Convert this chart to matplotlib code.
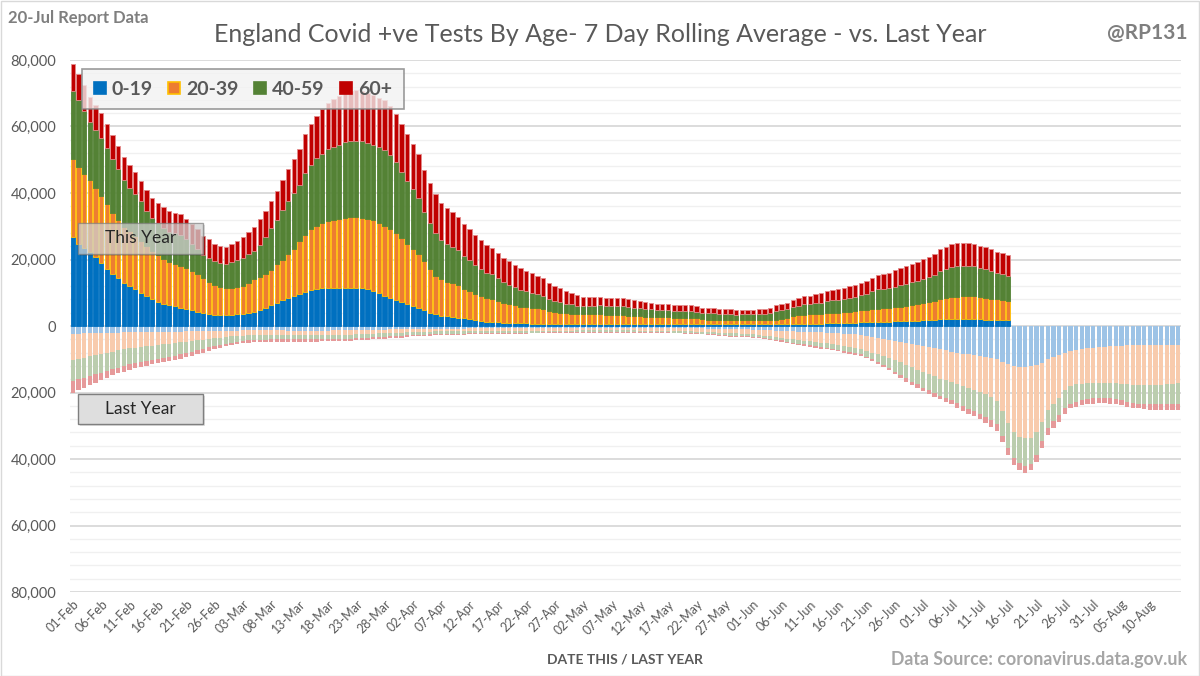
import numpy as np
import pandas as pd
import matplotlib
matplotlib.use('Agg')
import matplotlib.pyplot as plt
from matplotlib.patches import Rectangle, Patch
from matplotlib.ticker import FuncFormatter, MultipleLocator

plt.rcParams['font.family'] = ['Lato', 'DejaVu Sans']

# ---------------- data (thousands of positive tests, 7-day rolling average) ----------------
dates = pd.date_range('2022-02-01', '2022-08-15', freq='D')
date_labels = [d.strftime('%d-%b') for d in dates]
tick_every = 5
age_groups = ['0-19', '20-39', '40-59', '60+']

ty_0_19 = [26.8, 24.8, 23.5, 22.3, 20.8, 19.0, 17.2, 15.5, 14.3, 13.0,
           12.0, 11.0, 10.0, 9.0, 8.0, 7.3, 6.7, 6.3, 5.9, 5.5,
           5.0, 4.7, 4.2, 3.9, 3.7, 3.4, 3.3, 3.3, 3.3, 3.5,
           3.7, 4.0, 4.3, 4.7, 5.5, 6.3, 7.0, 7.7, 8.5, 9.0,
           9.7, 10.3, 10.7, 11.0, 11.3, 11.5, 11.5, 11.5, 11.5, 11.5,
           11.5, 11.3, 11.0, 10.5, 10.0, 9.0, 8.5, 7.7, 7.3, 6.7,
           6.0, 5.5, 4.7, 4.0, 3.5, 3.1, 2.9, 2.7, 2.5, 2.3,
           2.0, 1.7, 1.5, 1.3, 1.2, 1.1, 1.0, 0.9, 0.9, 0.8,
           0.8, 0.7, 0.7, 0.7, 0.7, 0.7, 0.7, 0.7, 0.7, 0.7,
           0.7, 0.6, 0.6, 0.6, 0.6, 0.6, 0.6, 0.6, 0.6, 0.6,
           0.6, 0.6, 0.6, 0.6, 0.6, 0.6, 0.6, 0.6, 0.6, 0.6,
           0.6, 0.5, 0.5, 0.5, 0.5, 0.5, 0.5, 0.5, 0.5, 0.5,
           0.5, 0.5, 0.5, 0.5, 0.5, 0.5, 0.6, 0.6, 0.7, 0.7,
           0.7, 0.7, 0.7, 0.8, 0.8, 0.9, 0.9, 1.0, 1.0, 1.1,
           1.1, 1.2, 1.2, 1.3, 1.3, 1.4, 1.4, 1.5, 1.5, 1.6,
           1.7, 1.8, 1.9, 2.0, 2.1, 2.2, 2.2, 2.2, 2.2, 2.1,
           2.0, 1.9, 1.9, 1.8, 1.8, 1.7]
ty_20_39 = [23.3, 23.0, 22.3, 21.6, 20.8, 20.1, 19.4, 18.6, 17.6, 16.8,
            16.6, 16.1, 15.6, 15.1, 14.6, 14.1, 13.4, 13.0, 12.7, 12.5,
            12.4, 11.8, 11.3, 10.4, 9.6, 8.9, 8.3, 8.2, 8.2, 8.2,
            8.3, 8.8, 9.7, 10.0, 10.0, 10.4, 11.5, 12.3, 13.1, 14.1,
            15.8, 17.2, 18.4, 19.1, 19.8, 20.1, 20.4, 20.6, 21.1, 21.3,
            21.3, 21.3, 21.1, 21.3, 21.1, 21.1, 20.6, 20.4, 19.1, 17.9,
            17.1, 16.1, 14.8, 13.0, 11.5, 10.9, 10.4, 10.1, 9.8, 8.7,
            8.5, 7.8, 7.5, 7.2, 6.8, 6.4, 6.0, 5.6, 5.3, 5.0,
            4.9, 4.8, 4.6, 4.3, 3.8, 3.6, 3.3, 3.2, 3.0, 2.9,
            2.8, 2.9, 2.9, 2.9, 2.8, 2.7, 2.7, 2.6, 2.5, 2.4,
            2.3, 2.2, 2.2, 2.1, 2.1, 2.0, 1.9, 1.9, 1.8, 1.8,
            1.7, 1.5, 1.4, 1.4, 1.3, 1.3, 1.3, 1.2, 1.2, 1.2,
            1.2, 1.2, 1.2, 1.3, 1.4, 1.6, 1.9, 2.3, 2.5, 2.7,
            2.8, 2.8, 2.9, 3.0, 3.1, 3.1, 3.2, 3.2, 3.4, 3.6,
            3.8, 3.8, 4.0, 4.0, 4.2, 4.3, 4.4, 4.5, 4.8, 4.9,
            5.1, 5.3, 5.6, 6.0, 6.4, 6.5, 6.6, 6.7, 6.7, 6.8,
            6.7, 6.6, 6.3, 6.2, 6.0, 5.8]
ty_40_59 = [20.6, 20.1, 18.9, 17.5, 17.4, 17.5, 16.8, 16.0, 15.2, 14.2,
            13.0, 12.7, 12.0, 10.5, 9.8, 9.5, 9.5, 9.1, 9.3, 9.5,
            8.9, 8.2, 7.8, 7.2, 7.3, 7.2, 7.3, 7.1, 7.7, 8.1,
            8.4, 8.8, 8.6, 9.8, 11.2, 12.7, 13.5, 14.8, 15.9, 16.8,
            16.8, 18.6, 19.4, 20.3, 20.7, 21.6, 21.8, 22.3, 22.6, 22.8,
            22.9, 22.9, 22.9, 22.6, 22.6, 22.9, 22.3, 21.2, 20.0, 19.0,
            18.1, 16.9, 14.7, 14.0, 13.0, 11.9, 11.5, 11.1, 10.5, 10.2,
            9.3, 8.9, 8.1, 7.5, 7.5, 6.8, 6.1, 5.9, 5.4, 5.1,
            4.7, 4.5, 4.2, 4.1, 3.5, 3.3, 3.2, 2.8, 2.8, 2.5,
            2.4, 2.5, 2.6, 2.7, 2.6, 2.7, 2.8, 2.7, 2.6, 2.5,
            2.5, 2.4, 2.3, 2.1, 2.2, 2.1, 2.1, 2.1, 2.2, 2.1,
            2.0, 1.9, 2.0, 1.9, 1.7, 1.8, 1.8, 1.7, 1.8, 1.8,
            1.8, 2.0, 1.9, 2.2, 2.7, 2.7, 2.7, 2.8, 2.9, 3.1,
            3.1, 3.3, 3.4, 3.7, 3.9, 3.9, 4.1, 4.3, 4.4, 4.6,
            4.7, 5.4, 5.8, 5.9, 5.8, 6.1, 6.6, 6.7, 6.9, 7.0,
            7.4, 7.6, 7.9, 8.5, 8.5, 9.0, 9.2, 9.2, 9.1, 9.0,
            8.6, 8.6, 8.3, 7.8, 7.9, 7.6]
ty_60_plus = [8.2, 8.0, 7.8, 7.6, 7.5, 7.4, 7.3, 7.2, 7.0, 6.8,
              6.7, 6.5, 6.0, 6.2, 6.2, 6.2, 6.2, 6.2, 6.2, 6.1,
              6.0, 5.9, 5.8, 5.6, 5.5, 5.3, 5.2, 5.2, 5.4, 5.8,
              6.4, 6.8, 7.2, 7.6, 7.9, 8.2, 8.6, 9.0, 9.6, 10.2,
              10.8, 11.5, 12.2, 12.8, 13.4, 14.0, 14.5, 14.8, 15.0, 15.1,
              15.2, 15.2, 15.2, 15.1, 15.0, 14.9, 14.8, 14.6, 14.3, 14.0,
              13.6, 13.1, 12.6, 12.1, 11.6, 11.2, 10.8, 10.4, 10.0, 9.6,
              9.3, 9.0, 8.7, 8.4, 8.1, 7.8, 7.5, 7.1, 6.8, 6.4,
              6.1, 5.8, 5.5, 5.2, 4.8, 4.4, 4.1, 3.8, 3.5, 3.2,
              2.9, 2.8, 2.7, 2.6, 2.5, 2.5, 2.4, 2.4, 2.3, 2.2,
              2.1, 2.0, 1.9, 1.9, 1.8, 1.8, 1.7, 1.7, 1.7, 1.7,
              1.7, 1.6, 1.6, 1.5, 1.5, 1.4, 1.4, 1.4, 1.3, 1.3,
              1.3, 1.3, 1.4, 1.5, 1.6, 1.7, 1.8, 2.0, 2.2, 2.4,
              2.5, 2.7, 2.8, 3.0, 3.1, 3.2, 3.3, 3.4, 3.5, 3.7,
              3.9, 4.1, 4.3, 4.5, 4.7, 4.9, 5.1, 5.3, 5.5, 5.7,
              5.9, 6.1, 6.4, 6.6, 6.8, 6.9, 7.0, 7.0, 7.0, 6.9,
              6.8, 6.7, 6.6, 6.5, 6.4, 6.3]

ly_0_19 = [2.5, 2.3, 2.2, 2.2, 2.1, 2.1, 2.0, 2.0, 2.0, 1.9,
           1.9, 1.9, 1.8, 1.8, 1.8, 1.8, 1.7, 1.7, 1.7, 1.7,
           1.6, 1.6, 1.6, 1.5, 1.5, 1.5, 1.4, 1.4, 1.4, 1.4,
           1.3, 1.3, 1.3, 1.3, 1.3, 1.3, 1.3, 1.3, 1.4, 1.4,
           1.4, 1.4, 1.4, 1.4, 1.4, 1.4, 1.3, 1.3, 1.3, 1.3,
           1.2, 1.2, 1.2, 1.1, 1.1, 1.1, 1.0, 1.0, 1.0, 0.9,
           0.9, 0.9, 0.9, 0.8, 0.8, 0.8, 0.8, 0.8, 0.8, 0.8,
           0.7, 0.7, 0.7, 0.7, 0.7, 0.7, 0.7, 0.7, 0.7, 0.7,
           0.7, 0.7, 0.7, 0.7, 0.7, 0.7, 0.7, 0.7, 0.7, 0.6,
           0.6, 0.6, 0.6, 0.6, 0.6, 0.6, 0.6, 0.6, 0.6, 0.6,
           0.6, 0.6, 0.6, 0.6, 0.6, 0.6, 0.7, 0.7, 0.7, 0.7,
           0.7, 0.7, 0.8, 0.8, 0.8, 0.8, 0.9, 0.9, 1.0, 1.0,
           1.1, 1.2, 1.3, 1.3, 1.4, 1.5, 1.6, 1.6, 1.7, 1.7,
           1.8, 1.8, 1.9, 2.0, 2.1, 2.2, 2.3, 2.4, 2.5, 2.7,
           2.9, 3.2, 3.5, 3.8, 4.1, 4.5, 4.8, 5.1, 5.5, 5.8,
           6.1, 6.4, 6.6, 7.0, 7.3, 7.7, 8.0, 8.3, 8.5, 8.7,
           9.0, 9.3, 9.6, 9.9, 10.7, 11.5, 12.0, 12.3, 12.3, 12.1,
           11.7, 11.0, 10.0, 9.3, 8.7, 8.0, 7.5, 7.1, 6.8, 6.6,
           6.5, 6.3, 6.2, 6.1, 6.0, 5.9, 5.8, 5.8, 5.8, 5.8,
           5.8, 5.8, 5.8, 5.8, 5.8, 5.8]
ly_20_39 = [7.8, 7.7, 7.3, 6.8, 6.6, 6.2, 6.0, 5.7, 5.3, 5.1,
            4.8, 4.6, 4.5, 4.3, 4.1, 3.9, 3.8, 3.6, 3.4, 3.2,
            3.1, 2.9, 2.7, 2.6, 2.4, 2.2, 2.1, 1.9, 1.7, 1.6,
            1.6, 1.5, 1.4, 1.4, 1.4, 1.3, 1.3, 1.3, 1.3, 1.3,
            1.3, 1.3, 1.3, 1.3, 1.3, 1.3, 1.3, 1.3, 1.3, 1.3,
            1.3, 1.2, 1.2, 1.2, 1.1, 1.1, 1.1, 1.0, 1.0, 1.0,
            0.9, 0.9, 0.9, 0.9, 0.8, 0.8, 0.8, 0.8, 0.8, 0.8,
            0.8, 0.8, 0.8, 0.8, 0.8, 0.8, 0.8, 0.7, 0.7, 0.7,
            0.7, 0.7, 0.7, 0.7, 0.7, 0.7, 0.7, 0.7, 0.7, 0.7,
            0.7, 0.7, 0.7, 0.7, 0.7, 0.7, 0.7, 0.7, 0.7, 0.7,
            0.8, 0.8, 0.8, 0.8, 0.8, 0.8, 0.8, 0.8, 0.9, 0.9,
            1.0, 1.0, 1.1, 1.1, 1.2, 1.2, 1.3, 1.3, 1.4, 1.4,
            1.4, 1.5, 1.6, 1.8, 1.9, 2.0, 2.2, 2.4, 2.6, 2.7,
            2.8, 3.0, 3.1, 3.2, 3.4, 3.6, 3.7, 3.9, 4.0, 4.3,
            4.6, 4.8, 5.0, 5.2, 5.4, 5.8, 6.1, 6.5, 6.9, 7.3,
            7.7, 8.1, 8.5, 8.8, 9.0, 9.2, 9.5, 9.8, 10.1, 10.4,
            10.7, 11.2, 11.7, 12.6, 14.8, 17.7, 19.8, 21.0, 21.5, 21.5,
            20.3, 17.8, 15.4, 14.1, 12.9, 11.2, 10.5, 10.4, 10.5, 10.6,
            10.6, 10.8, 10.8, 10.9, 11.1, 11.4, 11.7, 11.8, 11.9, 12.0,
            12.0, 11.9, 11.8, 11.7, 11.5, 11.4]
ly_40_59 = [6.2, 6.0, 6.0, 6.0, 5.8, 5.7, 5.5, 5.3, 5.2, 5.0,
            4.8, 4.7, 4.5, 4.4, 4.3, 4.2, 4.0, 3.9, 3.8, 3.6,
            3.4, 3.2, 3.0, 2.7, 2.5, 2.3, 2.2, 2.0, 1.9, 1.7,
            1.6, 1.5, 1.5, 1.4, 1.4, 1.4, 1.4, 1.4, 1.3, 1.3,
            1.3, 1.3, 1.3, 1.3, 1.3, 1.3, 1.3, 1.3, 1.2, 1.2,
            1.2, 1.2, 1.1, 1.1, 1.1, 1.1, 1.0, 1.0, 1.0, 0.9,
            0.9, 0.9, 0.8, 0.8, 0.8, 0.8, 0.7, 0.7, 0.7, 0.7,
            0.7, 0.7, 0.7, 0.6, 0.6, 0.6, 0.6, 0.6, 0.6, 0.6,
            0.6, 0.6, 0.6, 0.5, 0.5, 0.5, 0.5, 0.5, 0.5, 0.5,
            0.5, 0.5, 0.5, 0.5, 0.5, 0.5, 0.5, 0.5, 0.5, 0.5,
            0.5, 0.5, 0.5, 0.5, 0.5, 0.5, 0.5, 0.5, 0.5, 0.5,
            0.5, 0.6, 0.6, 0.6, 0.6, 0.6, 0.7, 0.7, 0.7, 0.7,
            0.7, 0.7, 0.7, 0.8, 0.8, 0.8, 0.9, 1.0, 1.0, 1.1,
            1.2, 1.2, 1.3, 1.3, 1.3, 1.3, 1.5, 1.5, 1.6, 1.5,
            1.7, 2.0, 2.2, 2.7, 3.2, 3.4, 3.8, 4.1, 4.3, 4.4,
            4.7, 4.8, 5.1, 5.3, 5.3, 5.5, 5.8, 6.0, 6.3, 6.5,
            6.7, 6.9, 7.1, 7.1, 7.5, 7.6, 7.8, 8.0, 8.3, 8.0,
            6.8, 5.8, 5.2, 5.2, 5.2, 5.4, 5.4, 5.3, 5.1, 4.9,
            4.7, 4.6, 4.7, 4.8, 5.0, 5.1, 5.3, 5.5, 5.7, 5.6,
            5.8, 5.9, 6.0, 6.1, 6.1, 6.2]
ly_60_plus = [3.6, 3.3, 3.0, 2.7, 2.5, 2.3, 2.0, 1.8, 1.7, 1.7,
              1.7, 1.5, 1.5, 1.4, 1.3, 1.3, 1.3, 1.3, 1.3, 1.3,
              1.3, 1.3, 1.2, 1.2, 1.1, 1.0, 0.8, 0.8, 0.7, 0.7,
              0.7, 0.7, 0.7, 0.7, 0.7, 0.7, 0.7, 0.7, 0.7, 0.7,
              0.7, 0.7, 0.7, 0.7, 0.6, 0.6, 0.6, 0.6, 0.6, 0.6,
              0.6, 0.6, 0.6, 0.6, 0.6, 0.6, 0.5, 0.5, 0.5, 0.5,
              0.4, 0.4, 0.4, 0.4, 0.4, 0.4, 0.4, 0.4, 0.3, 0.3,
              0.3, 0.3, 0.3, 0.3, 0.3, 0.3, 0.3, 0.3, 0.3, 0.3,
              0.3, 0.2, 0.2, 0.2, 0.2, 0.2, 0.2, 0.2, 0.2, 0.2,
              0.2, 0.2, 0.2, 0.2, 0.2, 0.2, 0.2, 0.2, 0.2, 0.2,
              0.2, 0.2, 0.2, 0.2, 0.2, 0.2, 0.2, 0.2, 0.2, 0.2,
              0.2, 0.2, 0.3, 0.3, 0.3, 0.3, 0.3, 0.3, 0.3, 0.3,
              0.3, 0.3, 0.3, 0.3, 0.4, 0.4, 0.4, 0.4, 0.5, 0.5,
              0.5, 0.5, 0.5, 0.5, 0.5, 0.5, 0.5, 0.5, 0.5, 0.5,
              0.5, 0.5, 0.6, 0.6, 0.6, 0.6, 0.8, 1.0, 1.0, 1.0,
              1.0, 1.2, 1.1, 1.0, 1.2, 1.2, 1.3, 1.5, 1.5, 1.6,
              1.7, 1.8, 1.9, 2.0, 2.0, 2.0, 2.2, 2.0, 2.2, 1.7,
              2.0, 2.0, 2.2, 2.2, 2.0, 1.8, 1.4, 1.6, 1.5, 1.5,
              1.6, 1.6, 1.6, 1.6, 1.5, 1.5, 1.6, 1.5, 1.4, 1.6,
              1.6, 1.8, 1.8, 1.8, 1.9, 2.0]

# ---------------- styling ----------------
col_ty = ['#0070C0', '#ED7D31', '#548235', '#C00000']
edge_ty = ['#0070C0', '#FFC000', '#548235', '#E38B8B']
col_ly = ['#9DC3E6', '#F8CBAD', '#BBCDAE', '#E69A9A']
grey = '#595959'
K = 1000

W, H = 1200, 676
fig = plt.figure(figsize=(W / 100, H / 100), dpi=100)
fig.patches.append(Rectangle((0.5 / W, 0.5 / H), 1 - 1.5 / W, 1 - 1.5 / H, transform=fig.transFigure,
                             fill=False, ec='#D9D9D9', lw=1))

ax = fig.add_axes([70 / W, 1 - 592 / H, 1111 / W, 532 / H])
ax.set_xlim(-0.5, len(dates) - 0.5)
ax.set_ylim(-80000, 80000)

bw = 0.76
ly_series = [ly_0_19, ly_20_39, ly_40_59, ly_60_plus]
ty_series = [ty_0_19, ty_20_39, ty_40_59, ty_60_plus]

x_ly = np.arange(len(ly_0_19))
base = np.zeros(len(x_ly))
for vals, c in zip(ly_series, col_ly):
    v = -np.asarray(vals) * K
    ax.bar(x_ly, v, bw, bottom=base, color=c, lw=0, zorder=2)
    base = base + v

x_ty = np.arange(len(ty_0_19))
base = np.zeros(len(x_ty))
for vals, c, ec in zip(ty_series, col_ty, edge_ty):
    v = np.asarray(vals) * K
    ax.bar(x_ty, v, bw, bottom=base, color=c, edgecolor=ec, lw=0.6, zorder=3)
    base = base + v

# grid
ax.yaxis.set_major_locator(MultipleLocator(20000))
ax.yaxis.set_minor_locator(MultipleLocator(4000))
ax.grid(which='minor', axis='y', color='#F0F0F0', lw=1.0, zorder=0)
ax.grid(which='major', axis='y', color='#D9D9D9', lw=1.3, zorder=0)
ax.set_axisbelow(True)
for s in ax.spines.values():
    s.set_visible(False)

ax.yaxis.set_major_formatter(FuncFormatter(lambda v, p: f'{abs(int(round(v))):,}'))
ax.tick_params(axis='y', which='both', length=0, labelsize=10.5, labelcolor=grey, pad=10)

ticks = np.arange(0, len(dates) - 1, tick_every)
ax.set_xticks(ticks)
ax.set_xticklabels([date_labels[i] for i in ticks], rotation=45, ha='right', va='top',
                   rotation_mode='anchor', fontsize=9, color=grey)
ax.tick_params(axis='x', length=0, pad=4)

# texts
fig.text(600 / W, 1 - 34 / H, 'England Covid +ve Tests By Age- 7 Day Rolling Average - vs. Last Year',
         ha='center', va='center', fontsize=18, color=grey)
fig.text(8 / W, 1 - 18 / H, '20-Jul Report Data', ha='left', va='center', fontsize=12,
         color='#7F7F7F', fontweight='bold')
fig.text(1187 / W, 1 - 33 / H, '@RP131', ha='right', va='center', fontsize=15,
         color='#7F7F7F', fontweight='bold')
fig.text(1187 / W, 1 - 660 / H, 'Data Source: coronavirus.data.gov.uk', ha='right', va='center',
         fontsize=12.8, color='#A6A6A6', fontweight='bold')
fig.text(625 / W, 1 - 659 / H, 'DATE THIS / LAST YEAR', ha='center', va='center', fontsize=10,
         color=grey, fontweight='bold')

# legend
handles = [Patch(facecolor=c, edgecolor=ec, lw=1.2) for c, ec in zip(col_ty, ['#0070C0', '#FFC000', '#548235', '#C00000'])]
leg = fig.legend(handles, age_groups, loc='upper left', bbox_to_anchor=(82 / W, 1 - 69 / H), ncol=4,
                 frameon=True, fancybox=False, edgecolor='#7F7F7F', facecolor='#F2F2F2', framealpha=0.78,
                 prop={'size': 14, 'weight': 'bold'}, labelcolor=grey, handlelength=0.62, handleheight=0.62,
                 handletextpad=0.3, columnspacing=0.8, borderpad=0.6, borderaxespad=0)
leg.get_frame().set_linewidth(1.2)


def label_box(x0, y0, x1, y1, text, fc, alpha):
    fig.patches.append(Rectangle((x0 / W + 2 / W, 1 - (y1 + 2) / H), (x1 - x0) / W, (y1 - y0) / H,
                                 transform=fig.transFigure, fc='#000000', alpha=0.12, lw=0, zorder=5))
    fig.patches.append(Rectangle((x0 / W, 1 - y1 / H), (x1 - x0) / W, (y1 - y0) / H,
                                 transform=fig.transFigure, fc=fc, alpha=alpha, ec='#7F7F7F', lw=1.0, zorder=6))
    fig.text((x0 + x1) / 2 / W, 1 - (y0 + y1) / 2 / H, text, ha='center', va='center', fontsize=12.5,
             color='#262626', zorder=7)


label_box(78, 223, 203, 254, 'This Year', '#D9D9D9', 0.72)
label_box(78, 394, 203, 424, 'Last Year', '#DEDEDE', 1.0)

fig.savefig('out.png', dpi=100)
